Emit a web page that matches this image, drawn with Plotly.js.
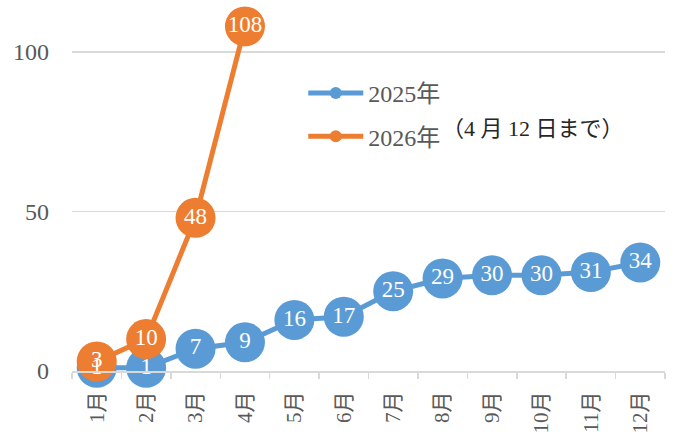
<!DOCTYPE html>
<html>
<head>
<meta charset="utf-8">
<script src="https://cdn.plot.ly/plotly-3.0.1.min.js"></script>
<style>html,body{margin:0;padding:0;background:#fff;}#chart{width:675px;height:432px;}</style>
</head>
<body>
<div id="chart"></div>
<script>
const months = ["1月","2月","3月","4月","5月","6月","7月","8月","9月","10月","11月","12月"];
const months2026 = ["1月","2月","3月","4月"];
const values2025 = [1,1,7,9,16,17,25,29,30,30,31,34];
const values2026 = [3,10,48,108];
const name2025 = "2025年";
const name2026 = "2026年";
const note2026 = "（4 月 12 日まで）";

const FONT = "'Liberation Serif', 'Times New Roman', 'Noto Sans CJK JP', serif";
const BLUE = "#5B9BD5", ORANGE = "#ED7D31", GRAY = "#595959", GRID = "#D9D9D9";
const labelFont = {family: FONT, size: 23, color: "#ffffff"};

const traces = [
  {x: months, y: values2025, name: name2025, type: "scatter", mode: "lines+markers",
   legendgroup: "a", line: {color: BLUE, width: 5}, marker: {color: BLUE, size: 40}, cliponaxis: false},
  {x: months2026, y: values2026, name: name2026, type: "scatter", mode: "lines+markers",
   legendgroup: "b", line: {color: ORANGE, width: 5}, marker: {color: ORANGE, size: 40}, cliponaxis: false},
  {x: months, y: values2025, type: "scatter", mode: "text", showlegend: false, hoverinfo: "skip",
   text: values2025.map(String), textposition: "middle center", textfont: labelFont, cliponaxis: false},
  {x: months2026, y: values2026, type: "scatter", mode: "text", showlegend: false, hoverinfo: "skip",
   text: values2026.map(String), textposition: "middle center", textfont: labelFont, cliponaxis: false}
];

const layout = {
  width: 675, height: 432,
  margin: {l: 72, r: 10, t: 20, b: 61},
  paper_bgcolor: "#fff", plot_bgcolor: "#fff",
  font: {family: FONT, size: 22, color: GRAY},
  showlegend: true,
  legend: {x: 0.39, y: 0.855, xanchor: "left", yanchor: "top", bgcolor: "rgba(0,0,0,0)",
           font: {family: FONT, size: 24, color: GRAY}, itemwidth: 55,
           traceorder: "grouped", tracegroupgap: 9, itemsizing: "constant"},
  xaxis: {type: "category", categoryorder: "array", categoryarray: months,
          range: [-0.5, 11.5], tickangle: -90, tickson: "boundaries",
          ticks: "outside", ticklen: 6, tickcolor: GRID, tickwidth: 1.5,
          ticksuffix: "\u2002",
          showline: true, linecolor: GRID, linewidth: 1.5, showgrid: false, zeroline: false,
          tickfont: {family: FONT, size: 21, color: GRAY}},
  yaxis: {range: [0, 110], dtick: 50, tick0: 0, showgrid: true, gridcolor: GRID, gridwidth: 1.5,
          zeroline: false, showline: false, ticks: "", ticklabelstandoff: 22,
          tickfont: {family: FONT, size: 24, color: GRAY}},
  annotations: [{xref: "paper", yref: "paper", x: 0.62, y: 0.692, xanchor: "left", yanchor: "middle",
                 text: note2026, showarrow: false, font: {family: FONT, size: 22, color: "#262626"}}]
};

Plotly.newPlot("chart", traces, layout, {displayModeBar: false, staticPlot: true});
</script>
</body>
</html>
